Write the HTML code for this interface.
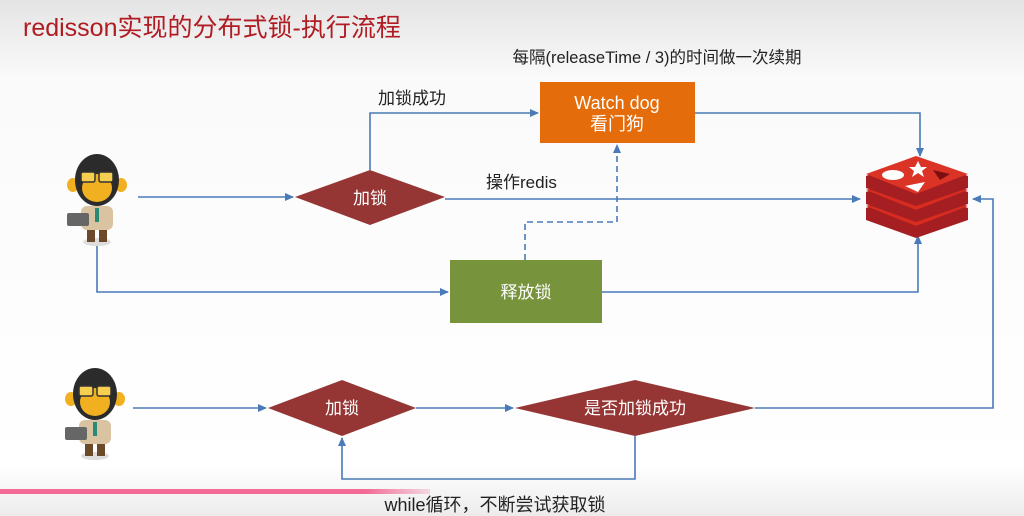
<!DOCTYPE html>
<html><head><meta charset="utf-8"><style>
html,body{margin:0;padding:0;width:1024px;height:516px;overflow:hidden;background:#fff}
text{font-family:"Liberation Sans","Noto Sans CJK SC",sans-serif}
</style></head><body>
<svg width="1024" height="516" viewBox="0 0 1024 516" xmlns="http://www.w3.org/2000/svg">
<defs>
<linearGradient id="bg" x1="0" y1="0" x2="0" y2="1">
<stop offset="0" stop-color="#e4e4e4"/><stop offset="0.15" stop-color="#fafafa"/><stop offset="0.9" stop-color="#fff"/><stop offset="1" stop-color="#ececec"/>
</linearGradient>
<linearGradient id="pk" x1="0" y1="0" x2="1" y2="0">
<stop offset="0" stop-color="#f26a95"/><stop offset="0.85" stop-color="#f26a95"/><stop offset="1" stop-color="#f26a95" stop-opacity="0.2"/>
</linearGradient>
<marker id="a" markerWidth="10" markerHeight="10" refX="8" refY="4" orient="auto" markerUnits="userSpaceOnUse">
<path d="M0,0 L9,4 L0,8 Z" fill="#4a7ab8"/></marker>
<g id="monkey">
<ellipse cx="0" cy="62" rx="14" ry="4" fill="#ddd"/>
<rect x="-10" y="44" width="8" height="18" fill="#6b4a2b"/><rect x="2" y="44" width="8" height="18" fill="#6b4a2b"/>
<rect x="-16" y="26" width="32" height="24" rx="6" fill="#d9c3a0"/>
<rect x="-2" y="28" width="4" height="14" fill="#2a8a7a"/>
<rect x="-30" y="33" width="22" height="13" rx="2" fill="#666"/>
<ellipse cx="-24" cy="5" rx="6" ry="7" fill="#f0b020"/><ellipse cx="24" cy="5" rx="6" ry="7" fill="#f0b020"/>
<ellipse cx="0" cy="0" rx="22" ry="26" fill="#2b2b2b"/>
<ellipse cx="0" cy="8" rx="15" ry="14" fill="#f0b020"/>
<rect x="-16" y="-8" width="14" height="10" rx="2" fill="#f6cf50" stroke="#333" stroke-width="1.5"/>
<rect x="2" y="-8" width="14" height="10" rx="2" fill="#f6cf50" stroke="#333" stroke-width="1.5"/>
</g>
</defs>
<rect width="1024" height="516" fill="url(#bg)"/>
<text x="23" y="36" font-size="25" fill="#b01c22">redisson实现的分布式锁-执行流程</text>
<text x="657" y="63" font-size="16.5" fill="#222" text-anchor="middle">每隔(releaseTime / 3)的时间做一次续期</text>

<g fill="none" stroke="#4a7ab8" stroke-width="1.6">
<path d="M138,197 H293" marker-end="url(#a)"/>
<path d="M445,199 H860" marker-end="url(#a)"/>
<path d="M370,170 V113 H538" marker-end="url(#a)"/>
<path d="M695,113 H920 V156" marker-end="url(#a)"/>
<path d="M97,240 V292 H448" marker-end="url(#a)"/>
<path d="M602,292 H918 V236" marker-end="url(#a)"/>
<path d="M525,260 V222 H617 V145" stroke-dasharray="6,4" marker-end="url(#a)"/>
<path d="M133,408 H266" marker-end="url(#a)"/>
<path d="M416,408 H513" marker-end="url(#a)"/>
<path d="M755,408 H993 V199 H973" marker-end="url(#a)"/>
<path d="M635,436 V479 H342 V438" marker-end="url(#a)"/>
</g>

<rect x="540" y="82" width="155" height="61" fill="#e46c0a"/>
<text x="617" y="109" font-size="18" fill="#fff" text-anchor="middle">Watch dog</text>
<text x="617" y="130" font-size="18" fill="#fff" text-anchor="middle">看门狗</text>
<text x="378" y="104" font-size="17" fill="#222">加锁成功</text>
<text x="486" y="188" font-size="17" fill="#222">操作redis</text>

<polygon points="295,197 370,170 445,197 370,225" fill="#963634"/>
<text x="370" y="204" font-size="17" fill="#fff" text-anchor="middle">加锁</text>
<rect x="450" y="260" width="152" height="63" fill="#77933c"/>
<text x="526" y="298" font-size="17" fill="#fff" text-anchor="middle">释放锁</text>

<polygon points="268,408 342,380 416,408 342,436" fill="#963634"/>
<text x="342" y="414" font-size="17" fill="#fff" text-anchor="middle">加锁</text>
<polygon points="515,408 635,380 755,408 635,436" fill="#963634"/>
<text x="635" y="414" font-size="17" fill="#fff" text-anchor="middle">是否加锁成功</text>

<g>
<path d="M866,208 L916,190 L968,208 V220 L916,238 L866,220 Z" fill="#a41e22"/>
<path d="M866,206 L916,188 L968,206 L916,226 Z" fill="#d82c20"/>
<path d="M866,192 L916,174 L968,192 V204 L916,222 L866,204 Z" fill="#a41e22"/>
<path d="M866,190 L916,172 L968,190 L916,210 Z" fill="#d82c20"/>
<path d="M866,176 L916,158 L968,176 V188 L916,206 L866,188 Z" fill="#a41e22"/>
<path d="M866,174 L916,156 L968,174 L916,194 Z" fill="#dc3327"/>
<ellipse cx="893" cy="175" rx="11" ry="5" fill="#fff"/>
<polygon points="918,161 921,167 927,167 922,171 924,177 918,173 912,177 914,171 909,167 915,167" fill="#fff"/>
<polygon points="905,186 925,182 918,192" fill="#fff"/>
<polygon points="933,170 950,174 940,180" fill="#7a1010"/>
</g>

<use href="#monkey" x="97" y="180"/>
<use href="#monkey" x="95" y="394"/>

<rect x="0" y="489" width="430" height="5" fill="url(#pk)"/>
<text x="495" y="511" font-size="18" fill="#222" text-anchor="middle">while循环，不断尝试获取锁</text>
</svg>
</body></html>
